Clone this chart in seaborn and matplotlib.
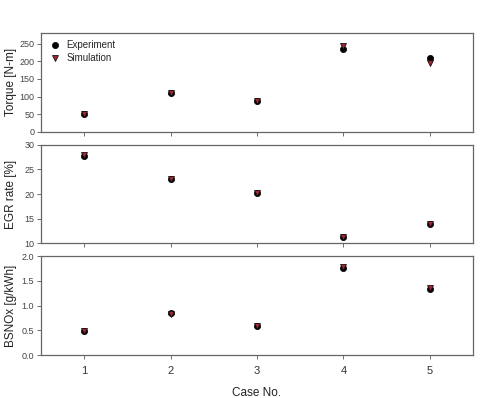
import matplotlib
matplotlib.use('Agg')
import matplotlib.pyplot as plt
import seaborn as sns
import pandas as pd

cases = [1, 2, 3, 4, 5]
torque_exp = [50, 110, 87, 235, 208]
torque_sim = [50, 110, 87, 242, 194]
egr_exp = [27.8, 23.0, 20.2, 11.3, 14.0]
egr_sim = [27.9, 23.0, 20.2, 11.3, 14.0]
nox_exp = [0.49, 0.86, 0.58, 1.77, 1.33]
nox_sim = [0.48, 0.83, 0.58, 1.78, 1.35]

sns.set_style("white")
plt.rcParams['font.family'] = ['Liberation Sans', 'DejaVu Sans']

fig, axes = plt.subplots(3, 1, figsize=(4.91, 3.98), dpi=100, sharex=True)
fig.subplots_adjust(left=0.084, right=0.963, top=0.917, bottom=0.108, hspace=0.13)

panels = [
    (torque_exp, torque_sim, 'Torque [N-m]', (0, 280), [0, 50, 100, 150, 200, 250], '%d'),
    (egr_exp, egr_sim, 'EGR rate [%]', (10, 30), [10, 15, 20, 25, 30], '%d'),
    (nox_exp, nox_sim, 'BSNOx [g/kWh]', (0, 2), [0.0, 0.5, 1.0, 1.5, 2.0], '%.1f'),
]

for ax, (exp, sim, label, lim, ticks, fmt) in zip(axes, panels):
    df = pd.DataFrame({'Case': cases * 2, 'Value': exp + sim,
                       'Type': ['Experiment'] * 5 + ['Simulation'] * 5})
    sns.scatterplot(data=df[df.Type == 'Experiment'], x='Case', y='Value', ax=ax,
                    marker='o', color='black', edgecolor='black', s=20, linewidth=0.5,
                    label='Experiment', zorder=2)
    sns.scatterplot(data=df[df.Type == 'Simulation'], x='Case', y='Value', ax=ax,
                    marker='v', color='#9a2a3a', edgecolor='#1a0a0a', s=18, linewidth=0.6,
                    label='Simulation', zorder=3)
    ax.set_ylim(*lim)
    ax.set_yticks(ticks)
    ax.set_yticklabels([fmt % t for t in ticks])
    ax.set_xlim(0.5, 5.5)
    ax.set_xticks(cases)
    ax.set_ylabel(label, fontsize=8.5, color='#222222')
    ax.set_xlabel('')
    ax.tick_params(axis='both', direction='out', length=3, width=0.6, color='#555555',
                   labelsize=6.5, labelcolor='#444444', bottom=True, left=True, pad=2)
    for sp in ax.spines.values():
        sp.set_color('#666666')
        sp.set_linewidth(0.9)
    ax.yaxis.set_label_coords(-0.056, 0.5)
    if ax is axes[0]:
        ax.legend(loc='upper left', frameon=False, fontsize=7, handletextpad=0.5,
                  handlelength=1.4, borderaxespad=0.3, labelspacing=0.3)
    else:
        ax.get_legend().remove()

axes[2].tick_params(axis='x', labelsize=8, labelcolor='#333333', pad=5)
axes[2].set_xlabel('Case No.', fontsize=8.5, color='#222222', labelpad=8)

plt.savefig('out.png', dpi=100)
